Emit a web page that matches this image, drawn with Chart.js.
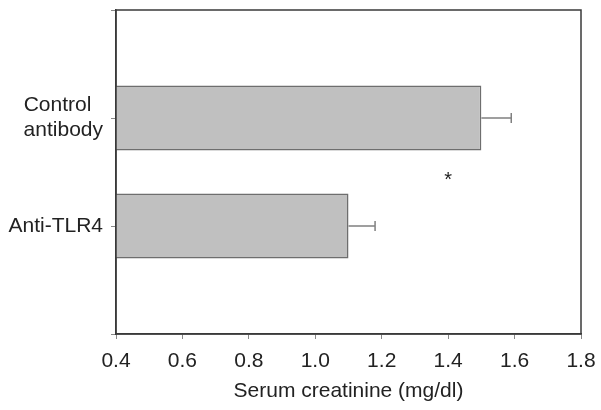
<!DOCTYPE html>
<html>
<head>
<meta charset="utf-8">
<script src="https://cdn.jsdelivr.net/npm/chart.js@4"></script>
<style>
html,body{margin:0;padding:0;background:#fff;}
#wrap{width:601px;height:410px;}
</style>
</head>
<body>
<div id="wrap"><canvas id="c" width="601" height="410"></canvas></div>
<script>
const categories = ['', ['Control  ', 'antibody'], 'Anti-TLR4', ''];
const creatinine = [null, 1.5, 1.1, null];
const errors = [null, 0.09, 0.08, null];
const xTicks = [0.4, 0.6, 0.8, 1.0, 1.2, 1.4, 1.6, 1.8];
const xTitle = 'Serum creatinine (mg/dl)';
const marker = { text: '*', x: 1.4, between: [1, 2] };

const FONT = '"Liberation Sans", Arial, Helvetica, sans-serif';

const framePlugin = {
  id: 'frame',
  afterDatasetsDraw(chart) {
    const {ctx, chartArea: a} = chart;
    ctx.save();
    ctx.strokeStyle = '#3a3a3a';
    ctx.lineWidth = 1.5;
    ctx.strokeRect(a.left, a.top, a.right - a.left, a.bottom - a.top);
    ctx.restore();
  }
};

const errorPlugin = {
  id: 'errbars',
  afterDatasetsDraw(chart) {
    const {ctx} = chart;
    const meta = chart.getDatasetMeta(0);
    const xs = chart.scales.x;
    ctx.save();
    ctx.strokeStyle = '#808080';
    ctx.lineWidth = 1.5;
    meta.data.forEach((bar, i) => {
      if (creatinine[i] == null || errors[i] == null) return;
      const x0 = xs.getPixelForValue(creatinine[i]);
      const x1 = xs.getPixelForValue(creatinine[i] + errors[i]);
      const y = bar.y;
      ctx.beginPath();
      ctx.moveTo(x0, y); ctx.lineTo(x1, y);
      ctx.moveTo(x1, y - 5); ctx.lineTo(x1, y + 5);
      ctx.stroke();
    });
    const ys = chart.scales.y;
    const yp = (ys.getPixelForValue(marker.between[0]) + ys.getPixelForValue(marker.between[1])) / 2;
    ctx.fillStyle = '#222';
    ctx.font = '20px ' + FONT;
    ctx.textAlign = 'center';
    ctx.textBaseline = 'middle';
    ctx.fillText(marker.text, xs.getPixelForValue(marker.x), yp + 8);
    ctx.restore();
  }
};

new Chart(document.getElementById('c'), {
  type: 'bar',
  data: {
    labels: categories,
    datasets: [{
      data: creatinine,
      backgroundColor: '#c0c0c0',
      borderColor: '#6e6e6e',
      borderWidth: 1.5,
      categoryPercentage: 1,
      barPercentage: 0.6
    }]
  },
  options: {
    indexAxis: 'y',
    responsive: false,
    animation: false,
    devicePixelRatio: 1,
    layout: { padding: { top: 10, right: 20, left: 0, bottom: 6 } },
    plugins: { legend: { display: false }, tooltip: { enabled: false } },
    scales: {
      x: {
        type: 'linear',
        min: 0.4, max: 1.8,
        afterBuildTicks(s) { s.ticks = xTicks.map(v => ({ value: v })); },
        afterFit(s) { s.height = 70; s.paddingLeft = 0; s.paddingRight = 0; },
        ticks: {
          callback: v => Number(v).toFixed(1),
          color: '#222',
          font: { family: FONT, size: 21 },
          padding: 10
        },
        grid: { drawOnChartArea: false, tickLength: 5, color: '#888', tickWidth: 1 },
        border: { color: '#3a3a3a', width: 1.5 },
        title: { display: true, text: xTitle, color: '#222', font: { family: FONT, size: 21 }, padding: { top: 0, bottom: 0 } }
      },
      y: {
        type: 'category',
        offset: false,
        afterFit(s) { s.width = 116; s.paddingTop = 0; s.paddingBottom = 0; },
        ticks: {
          color: '#222',
          font: { family: FONT, size: 21, lineHeight: 1.2 },
          padding: 8
        },
        grid: { offset: false, drawOnChartArea: false, tickLength: 5, color: '#888', tickWidth: 1 },
        border: { color: '#3a3a3a', width: 1.5 }
      }
    }
  },
  plugins: [framePlugin, errorPlugin]
});
</script>
</body>
</html>
